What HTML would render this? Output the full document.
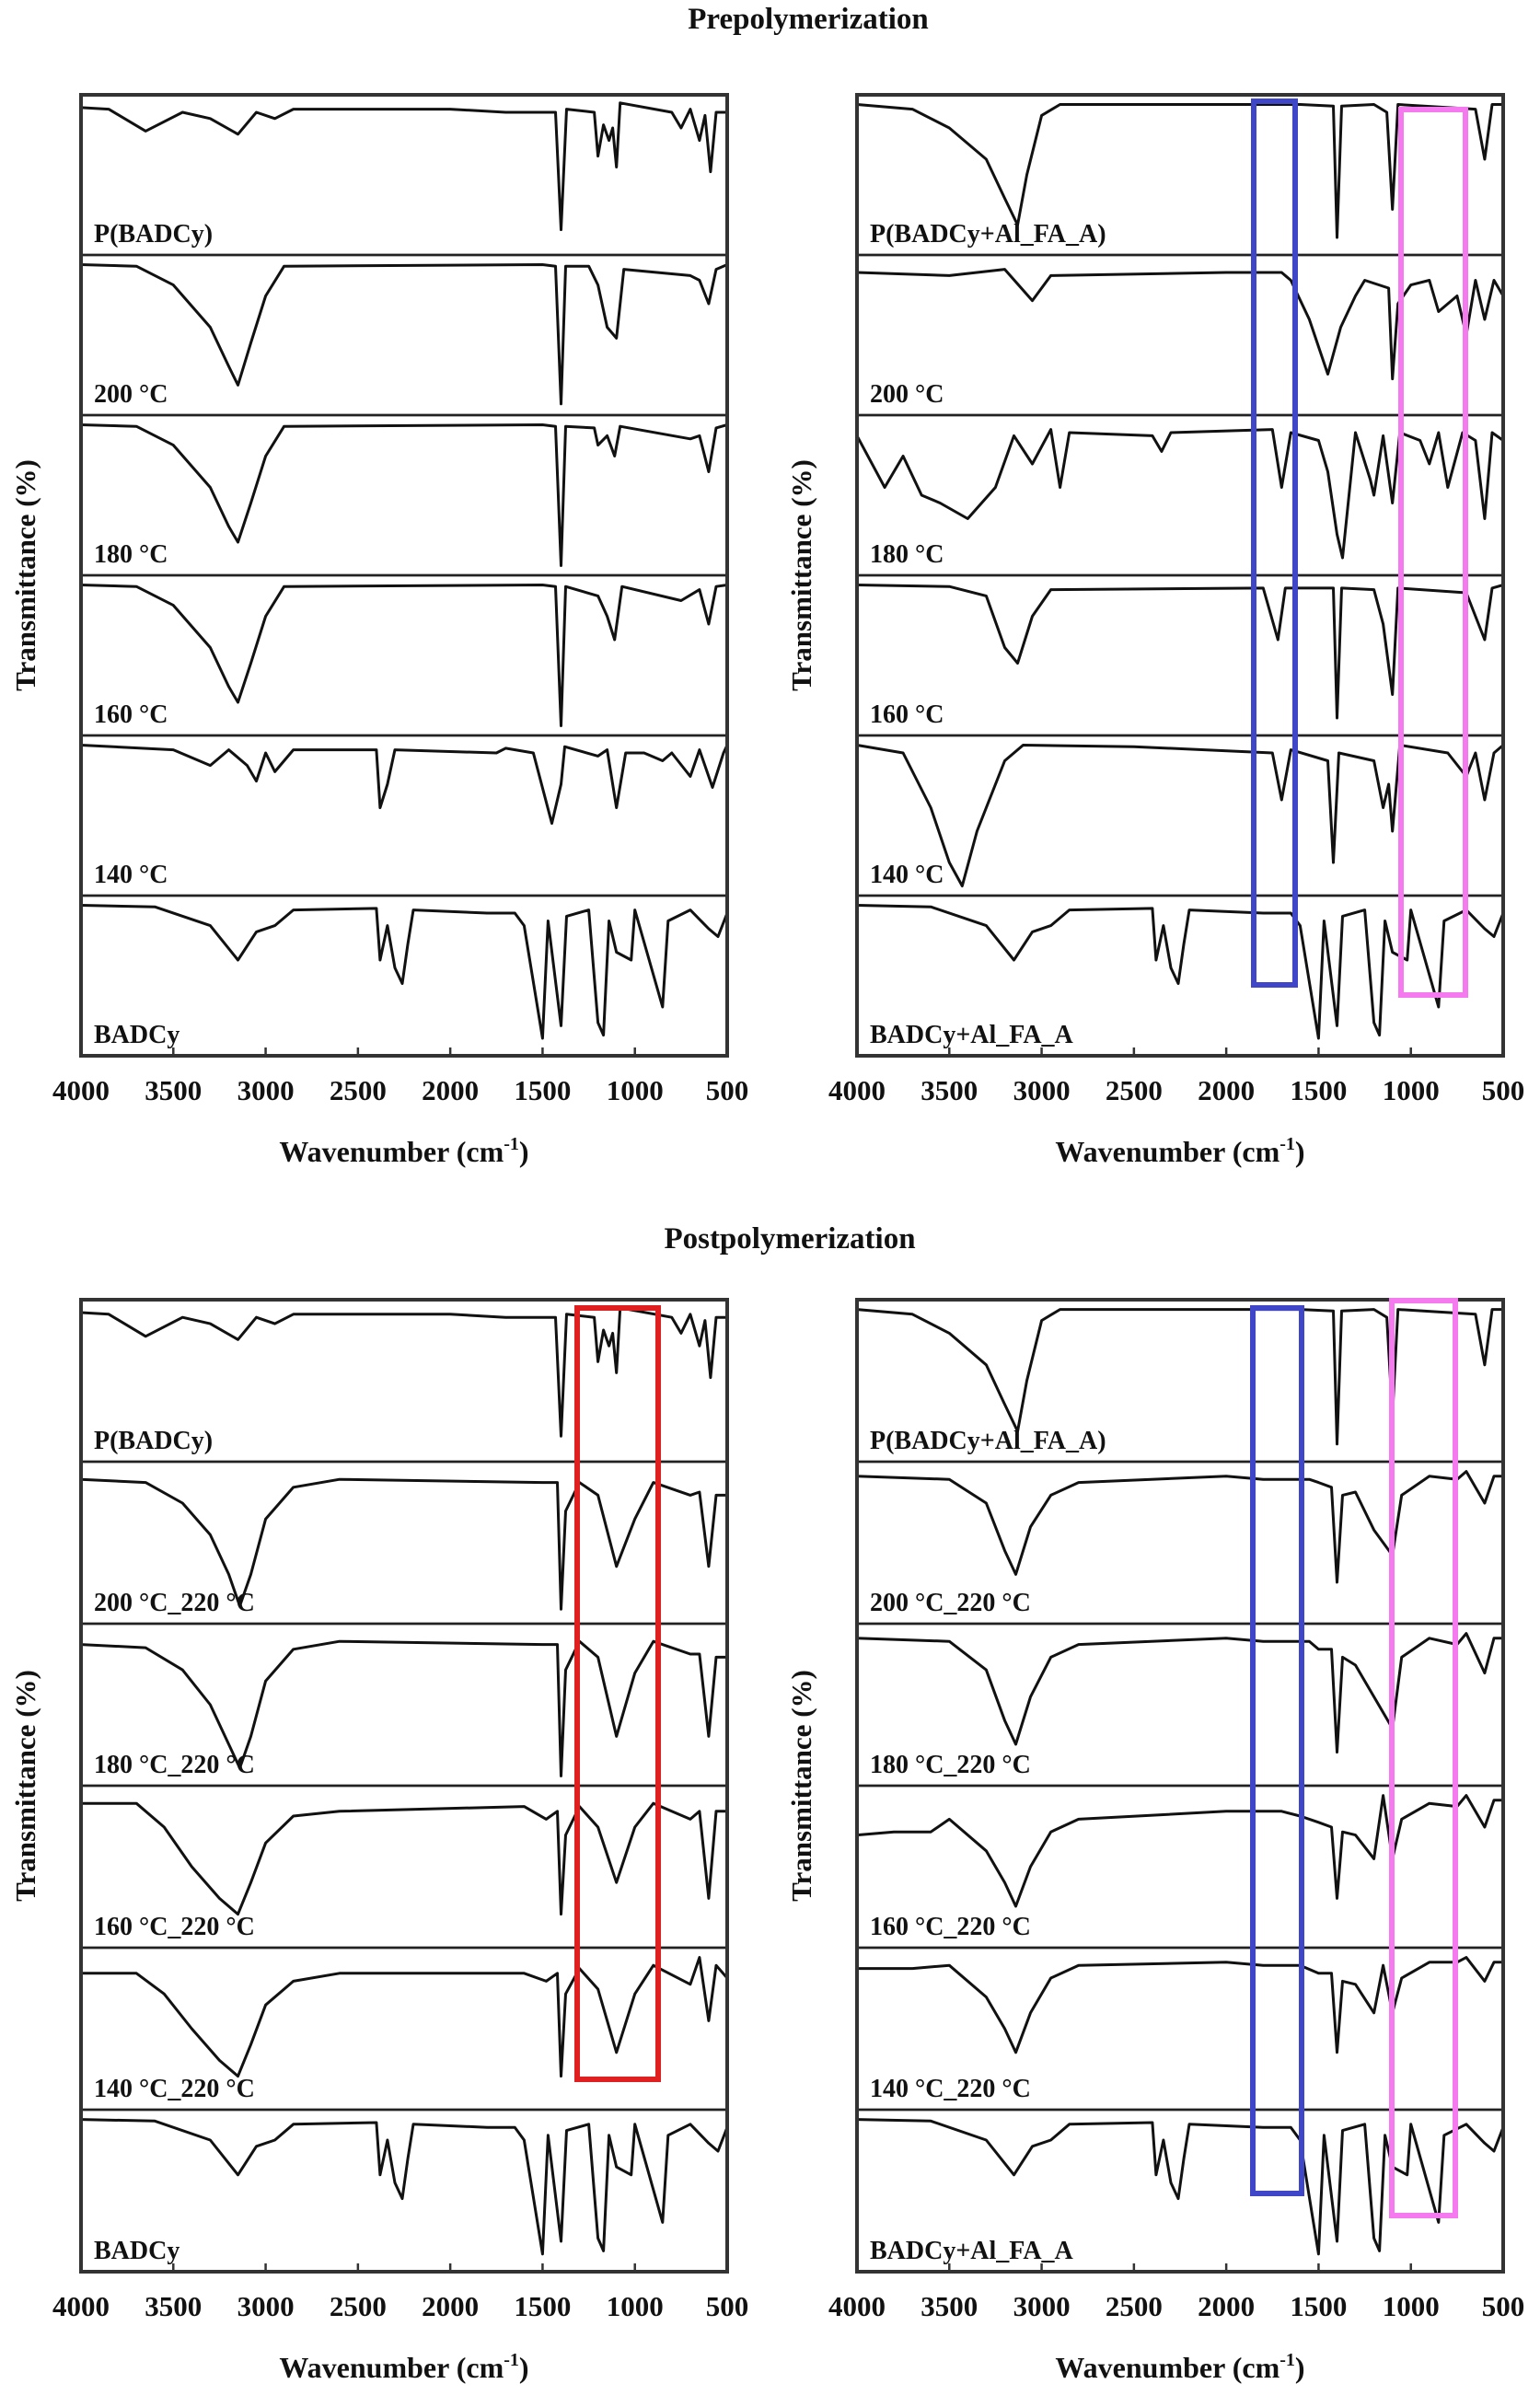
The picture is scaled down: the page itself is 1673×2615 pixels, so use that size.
<!DOCTYPE html>
<html><head><meta charset="utf-8"><style>
html,body{margin:0;padding:0;background:#fff;}
body{width:1673px;height:2610px;overflow:hidden;}
svg text{font-family:"Liberation Serif",serif;font-weight:bold;fill:#111;}
</style></head><body>
<svg id="fig" width="1673" height="2610" viewBox="0 0 1673 2610" xmlns="http://www.w3.org/2000/svg"></svg>
<script>
// Spectra data: [wavenumber, relative transmittance (1 = top of sub-panel)]
const ticks = [4000,3500,3000,2500,2000,1500,1000,500];
const labelsTL = ["P(BADCy)","200 °C","180 °C","160 °C","140 °C","BADCy"];
const labelsTR = ["P(BADCy+Al_FA_A)","200 °C","180 °C","160 °C","140 °C","BADCy+Al_FA_A"];
const labelsBL = ["P(BADCy)","200 °C_220 °C","180 °C_220 °C","160 °C_220 °C","140 °C_220 °C","BADCy"];
const labelsBR = ["P(BADCy+Al_FA_A)","200 °C_220 °C","180 °C_220 °C","160 °C_220 °C","140 °C_220 °C","BADCy+Al_FA_A"];
const sPB = [[4000,.93],[3850,.92],[3650,.78],[3450,.9],[3300,.86],[3150,.76],[3050,.9],[2950,.86],[2850,.92],[2000,.92],[1700,.9],[1500,.9],[1430,.9],[1400,.15],[1370,.92],[1220,.9],[1200,.62],[1170,.82],[1140,.72],[1120,.8],[1100,.55],[1080,.96],[800,.9],[750,.8],[700,.92],[650,.72],[620,.88],[590,.52],[560,.9],[500,.9]];
const sT200 = [[4000,.95],[3700,.94],[3500,.82],[3300,.55],[3200,.3],[3150,.18],[3080,.45],[3000,.75],[2900,.94],[1500,.95],[1430,.94],[1400,.06],[1375,.94],[1250,.94],[1200,.82],[1150,.55],[1100,.48],[1060,.92],[700,.88],[650,.85],[600,.7],[560,.92],[500,.95]];
const sT180 = [[4000,.95],[3700,.94],[3500,.82],[3300,.55],[3200,.3],[3150,.2],[3080,.45],[3000,.75],[2900,.94],[1500,.95],[1430,.94],[1400,.05],[1375,.94],[1220,.93],[1200,.82],[1150,.88],[1110,.75],[1080,.94],[700,.86],[650,.88],[600,.65],[560,.93],[500,.95]];
const sT160 = [[4000,.95],[3700,.94],[3500,.82],[3300,.55],[3200,.3],[3150,.2],[3080,.45],[3000,.75],[2900,.94],[1500,.95],[1430,.94],[1400,.05],[1375,.94],[1200,.88],[1150,.75],[1110,.6],[1070,.94],[750,.85],[650,.92],[600,.7],[560,.94],[500,.95]];
const sT140 = [[4000,.95],[3500,.92],[3300,.82],[3200,.92],[3100,.82],[3050,.72],[3000,.9],[2950,.78],[2850,.92],[2400,.92],[2380,.55],[2340,.7],[2300,.92],[1750,.9],[1700,.93],[1550,.9],[1450,.45],[1400,.7],[1380,.94],[1200,.88],[1150,.92],[1100,.55],[1050,.9],[950,.9],[850,.85],[800,.9],[700,.75],[650,.92],[580,.68],[520,.9],[500,.95]];
const sBAD = [[4000,.95],[3600,.94],[3300,.82],[3150,.6],[3050,.78],[2950,.82],[2850,.92],[2400,.93],[2380,.6],[2340,.82],[2300,.55],[2260,.45],[2230,.7],[2200,.92],[1800,.9],[1650,.9],[1600,.82],[1500,.1],[1470,.85],[1400,.18],[1370,.88],[1250,.92],[1200,.2],[1170,.12],[1140,.85],[1100,.65],[1020,.6],[1000,.92],[850,.3],[820,.85],[700,.92],[600,.8],[550,.75],[500,.9]];
const sPBA = [[4000,.95],[3700,.92],[3500,.8],[3300,.6],[3200,.35],[3130,.18],[3080,.5],[3000,.88],[2900,.95],[1800,.95],[1600,.95],[1420,.94],[1400,.1],[1375,.94],[1200,.95],[1130,.9],[1100,.28],[1070,.95],[650,.92],[600,.6],[560,.95],[500,.95]];
const sR200 = [[4000,.9],[3500,.88],[3200,.92],[3050,.72],[2950,.88],[2000,.9],[1700,.9],[1650,.85],[1550,.6],[1450,.25],[1380,.55],[1300,.75],[1250,.85],[1120,.8],[1100,.22],[1070,.7],[1000,.82],[900,.85],[850,.65],[750,.75],[700,.5],[650,.85],[600,.6],[550,.85],[500,.75]];
const sR180 = [[4000,.88],[3850,.55],[3750,.75],[3650,.5],[3550,.45],[3400,.35],[3250,.55],[3150,.88],[3050,.7],[2950,.92],[2900,.55],[2850,.9],[2400,.88],[2350,.78],[2300,.9],[1750,.92],[1700,.55],[1650,.9],[1500,.85],[1450,.65],[1400,.25],[1370,.1],[1300,.9],[1220,.6],[1200,.5],[1150,.88],[1100,.45],[1060,.9],[950,.85],[900,.7],[850,.9],[800,.55],[720,.9],[650,.85],[600,.35],[560,.9],[500,.85]];
const sR160 = [[4000,.95],[3500,.94],[3300,.88],[3200,.55],[3130,.45],[3050,.75],[2950,.92],[1800,.93],[1720,.6],[1680,.93],[1420,.93],[1400,.1],[1375,.93],[1200,.92],[1150,.7],[1100,.25],[1070,.93],[700,.9],[600,.6],[560,.93],[500,.95]];
const sR140 = [[4000,.95],[3750,.9],[3600,.55],[3500,.2],[3430,.05],[3350,.4],[3200,.85],[3100,.95],[2500,.94],[1750,.9],[1700,.6],[1650,.92],[1450,.85],[1420,.2],[1390,.9],[1200,.85],[1150,.55],[1120,.7],[1100,.4],[1060,.95],[800,.9],[700,.75],[650,.9],[600,.6],[550,.9],[500,.95]];
const sB200 = [[4000,.9],[3650,.88],[3450,.75],[3300,.55],[3200,.3],[3140,.1],[3080,.3],[3000,.65],[2850,.85],[2600,.9],[1500,.88],[1420,.88],[1400,.08],[1375,.7],[1300,.88],[1200,.8],[1100,.35],[1000,.65],[900,.88],[700,.8],[650,.82],[600,.35],[560,.8],[500,.8]];
const sB180 = [[4000,.88],[3650,.86],[3450,.72],[3300,.5],[3200,.25],[3140,.1],[3080,.3],[3000,.65],[2850,.85],[2600,.9],[1500,.88],[1420,.88],[1400,.05],[1375,.72],[1300,.9],[1200,.8],[1100,.3],[1000,.7],[900,.9],[700,.82],[650,.82],[600,.3],[560,.8],[500,.8]];
const sB160 = [[4000,.9],[3700,.9],[3550,.75],[3400,.5],[3250,.3],[3150,.2],[3080,.4],[3000,.65],[2850,.82],[2600,.85],[1600,.88],[1480,.8],[1420,.85],[1400,.2],[1375,.7],[1300,.88],[1200,.75],[1100,.4],[1000,.75],[900,.9],[700,.8],[650,.85],[600,.3],[560,.85],[500,.85]];
const sB140 = [[4000,.85],[3700,.85],[3550,.72],[3400,.5],[3250,.3],[3150,.2],[3080,.4],[3000,.65],[2850,.8],[2600,.85],[1600,.85],[1480,.8],[1420,.85],[1400,.2],[1375,.72],[1300,.88],[1200,.75],[1100,.35],[1000,.72],[900,.9],[700,.78],[650,.95],[600,.55],[560,.9],[500,.82]];
const sC200 = [[4000,.92],[3500,.9],[3300,.75],[3200,.45],[3140,.3],[3060,.6],[2950,.8],[2800,.88],[2000,.92],[1800,.9],[1550,.9],[1500,.88],[1430,.85],[1400,.25],[1370,.8],[1300,.82],[1200,.58],[1100,.42],[1050,.8],[900,.92],[750,.9],[700,.95],[600,.75],[550,.92],[500,.92]];
const sC180 = [[4000,.92],[3500,.9],[3300,.72],[3200,.4],[3140,.25],[3060,.55],[2950,.8],[2800,.88],[2000,.92],[1800,.9],[1550,.9],[1500,.85],[1430,.85],[1400,.2],[1370,.8],[1300,.75],[1200,.55],[1100,.35],[1050,.8],[900,.92],[750,.88],[700,.95],[600,.7],[550,.92],[500,.92]];
const sC160 = [[4000,.7],[3800,.72],[3600,.72],[3500,.8],[3300,.6],[3200,.4],[3140,.25],[3060,.5],[2950,.72],[2800,.8],[2000,.85],[1800,.85],[1700,.85],[1600,.82],[1500,.78],[1430,.75],[1400,.3],[1370,.72],[1300,.7],[1200,.55],[1150,.95],[1100,.55],[1050,.8],[900,.9],[750,.88],[700,.95],[600,.75],[550,.92],[500,.92]];
const sC140 = [[4000,.88],[3700,.88],[3500,.9],[3300,.7],[3200,.5],[3140,.35],[3060,.6],[2950,.82],[2800,.9],[2000,.92],[1800,.9],[1600,.9],[1500,.85],[1430,.85],[1400,.35],[1370,.8],[1300,.78],[1200,.6],[1150,.9],[1100,.6],[1050,.82],[900,.92],[750,.92],[700,.95],[600,.8],[550,.92],[500,.92]];
const series = {
  tl:[sPB,sT200,sT180,sT160,sT140,sBAD],
  tr:[sPBA,sR200,sR180,sR160,sR140,sBAD],
  bl:[sPB,sB200,sB180,sB160,sB140,sBAD],
  br:[sPBA,sC200,sC180,sC160,sC140,sBAD]
};
const NS="http://www.w3.org/2000/svg";
const svg=document.getElementById('fig');
function mk(tag,attrs,parent){const e=document.createElementNS(NS,tag);for(const k in attrs)e.setAttribute(k,attrs[k]);(parent||svg).appendChild(e);return e;}
function txt(x,y,s,size,anchor,parent){const t=mk('text',{x:x,y:y,'font-size':size,'text-anchor':anchor||'start'},parent);t.textContent=s;return t;}

function panel(key,x0,x1,y0,y1,labels){
  const g=mk('g',{});
  
  
  const xs=w=>x0+(4000-w)/3500*(x1-x0);
  const sh=(y1-y0)/6;
  series[key].forEach((s,i)=>{
    const top=y0+i*sh;
    const ys=t=>top+(1-t)*(sh-4)+2;
    const pts=s.map(p=>xs(p[0]).toFixed(1)+','+ys(p[1]).toFixed(1)).join(' ');
    const pl=mk('polyline',{points:pts,fill:'none',stroke:'#111','stroke-width':3,'stroke-linejoin':'round'},g);
    
    
    if(i>0){const ln=mk('line',{x1:x0,x2:x1,y1:top,y2:top,stroke:'#222','stroke-width':2.8},g);
      
      }
    const lt=txt(x0+14,top+sh-14,labels[i],28,'start',g);
    
    
  });
  const r=mk('rect',{x:x0,y:y0,width:x1-x0,height:y1-y0,fill:'none',stroke:'#333','stroke-width':4},g);
  
  
  ticks.forEach(t=>{
    const x=xs(t);
    const tk=mk('line',{x1:x,x2:x,y1:y1,y2:y1-9,stroke:'#333','stroke-width':2.5},g);
    
    
    const tl=txt(x,y1+48,String(t),31,'middle',g);
    
    
  });
  const xl=txt((x0+x1)/2,y1+115,'Wavenumber (cm',32,'middle',g);
  const sup=document.createElementNS(NS,'tspan');sup.setAttribute('font-size',20);sup.setAttribute('dy',-13);sup.textContent='-1';xl.appendChild(sup);
  const cl=document.createElementNS(NS,'tspan');cl.setAttribute('dy',13);cl.textContent=')';xl.appendChild(cl);
  
  
  const yc=(y0+y1)/2;
  const yl=txt(0,0,'Transmittance (%)',31,'middle',g);
  yl.setAttribute('transform','translate('+(x0-50)+','+yc+') rotate(-90)');
  
  
}
panel('tl',88,790,103,1147,labelsTL);
panel('tr',931,1633,103,1147,labelsTR);
panel('bl',88,790,1412,2468,labelsBL);
panel('br',931,1633,1412,2468,labelsBR);

const t1=txt(878,31,'Prepolymerization',33,'middle');


const t2=txt(858,1356,'Postpolymerization',33,'middle');



function hl(x,y,w,h,c,name){const r=mk('rect',{x:x,y:y,width:w,height:h,fill:'none',stroke:c,'stroke-width':6});
  
  }
hl(1362,110,45,960,'#4046c8','highlight-box-blue-pre');
hl(1522,119,70,962,'#f57af0','highlight-box-pink-pre');
hl(627,1421,88,838,'#e02020','highlight-box-red-post');
hl(1361,1421,53,962,'#4046c8','highlight-box-blue-post');
hl(1512,1413,69,994,'#f57af0','highlight-box-pink-post');
</script>
</body></html>
